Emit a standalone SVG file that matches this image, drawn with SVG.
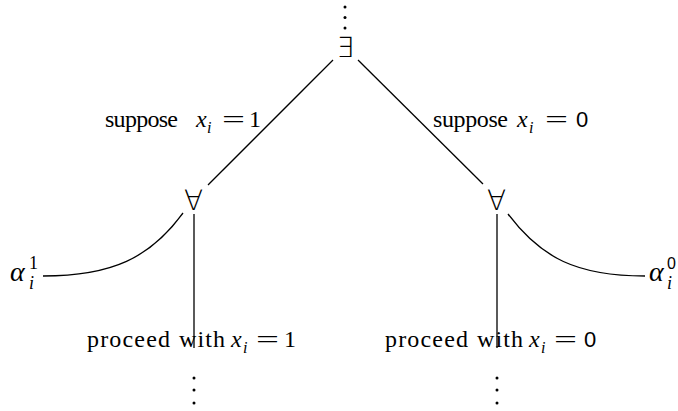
<svg xmlns="http://www.w3.org/2000/svg" width="678" height="411" viewBox="0 0 678 411">
<style>
.t{font-family:"Liberation Serif",serif;font-size:24px;fill:#000}
.it{font-style:italic}
.sb{font-size:16px}
.s{font-family:"Liberation Sans",sans-serif;font-size:22px}
.q{font-family:"DejaVu Sans",sans-serif;font-size:28px;font-weight:200;fill:#000}
.e{fill:none;stroke:#000;stroke-width:1.3}
.d{fill:#000}
</style>
<rect width="678" height="411" fill="#fff"/>
<g id="connectors">
<line class="e" x1="333" y1="60" x2="208" y2="185"/>
<line class="e" x1="358" y1="60" x2="483" y2="184"/>
<line class="e" x1="194" y1="214" x2="194" y2="348"/>
<line class="e" x1="497" y1="214" x2="497" y2="348"/>
<path class="e" d="M183,213 C150,258 112,276 43,276"/>
<path class="e" d="M508,214 C541,258 577,276 645,276"/>
</g>
<g id="top">
<circle class="d" cx="345" cy="7" r="1.5"/>
<circle class="d" cx="345" cy="17.5" r="1.5"/>
<circle class="d" cx="345" cy="28" r="1.5"/>
<text class="q" x="345" y="57" text-anchor="middle">∃</text>
</g>
<g id="forall-left">
<text class="q" x="193.5" y="210" text-anchor="middle">∀</text>
</g>
<g id="forall-right">
<text class="q" x="496.5" y="210" text-anchor="middle">∀</text>
</g>
<g id="label-suppose1">
<text class="t" x="105" y="127" textLength="73">suppose</text>
<text class="t it" x="196" y="127">x</text>
<text class="t it sb" x="207" y="133">i</text>
<text class="t" x="222" y="127" textLength="23" lengthAdjust="spacingAndGlyphs">=</text>
<text class="t" x="249" y="127">1</text>
</g>
<g id="label-suppose0">
<text class="t" x="433" y="127" textLength="75">suppose</text>
<text class="t it" x="517" y="127">x</text>
<text class="t it sb" x="529" y="133">i</text>
<text class="t" x="545" y="127" textLength="23" lengthAdjust="spacingAndGlyphs">=</text>
<text class="t s" x="576" y="127">0</text>
</g>
<g id="alpha1">
<text class="t it" x="10" y="281" style="font-size:28px">α</text>
<text class="t" x="29" y="269" style="font-size:18px">1</text>
<text class="t it" x="29" y="289" style="font-size:18px">i</text>
</g>
<g id="alpha0">
<text class="t it" x="649" y="281" style="font-size:28px">α</text>
<text class="t s" x="667" y="269" style="font-size:16px">0</text>
<text class="t it" x="667" y="289" style="font-size:18px">i</text>
</g>
<g id="proceed1">
<text class="t" x="87" y="347" textLength="83">proceed</text>
<text class="t" x="179" y="347" textLength="46">with</text>
<text class="t it" x="231" y="347">x</text>
<text class="t it sb" x="243" y="353">i</text>
<text class="t" x="256" y="347" textLength="23" lengthAdjust="spacingAndGlyphs">=</text>
<text class="t" x="284" y="347">1</text>
<circle class="d" cx="194" cy="378" r="1.5"/>
<circle class="d" cx="194" cy="390" r="1.5"/>
<circle class="d" cx="194" cy="403" r="1.5"/>
</g>
<g id="proceed0">
<text class="t" x="385" y="347" textLength="83">proceed</text>
<text class="t" x="477" y="347" textLength="46">with</text>
<text class="t it" x="529" y="347">x</text>
<text class="t it sb" x="541" y="353">i</text>
<text class="t" x="554" y="347" textLength="23" lengthAdjust="spacingAndGlyphs">=</text>
<text class="t s" x="584" y="347">0</text>
<circle class="d" cx="497" cy="378" r="1.5"/>
<circle class="d" cx="497" cy="390" r="1.5"/>
<circle class="d" cx="497" cy="403" r="1.5"/>
</g>
</svg>
